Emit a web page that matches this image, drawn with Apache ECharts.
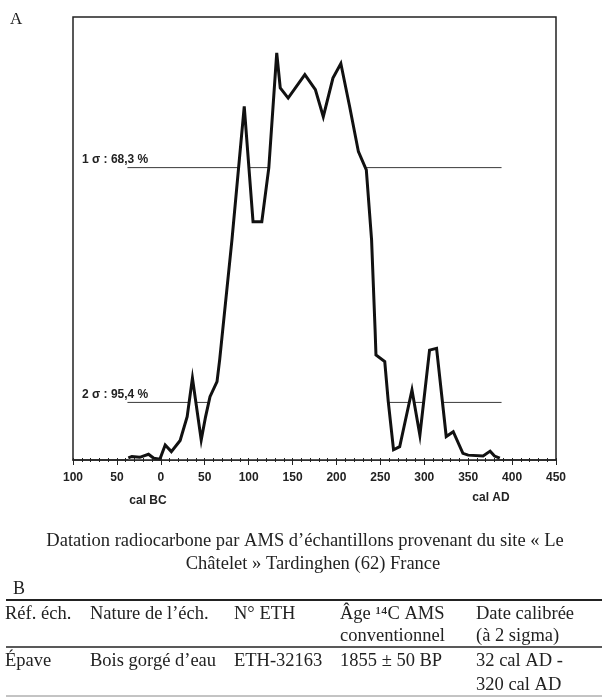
<!DOCTYPE html>
<html>
<head>
<meta charset="utf-8">
<title>Datation radiocarbone</title>
<script src="https://cdn.jsdelivr.net/npm/echarts@6/dist/echarts.min.js"></script>
<style>
  html, body { margin: 0; padding: 0; background: #fff; }
  #main { width: 602px; height: 698px; }
</style>
</head>
<body>
<div id="main"></div>
<script>
// années calibrées (négatif = cal BC)
const years = [-37, -33, -24, -14, -8, -1, 5, 12, 22, 30, 36, 46, 51, 56, 64, 67, 81, 95, 105, 115, 123, 132, 136, 145, 164, 176, 185, 196, 205, 215, 225, 234, 240, 244, 245, 255, 259, 265, 272, 286, 295, 306, 314, 325, 333, 344, 350, 367, 375, 380, 386]
// probabilité relative (1 = haut du cadre)
const prob = [0.005, 0.008, 0.006, 0.013, 0.004, 0.002, 0.034, 0.019, 0.044, 0.098, 0.185, 0.045, 0.098, 0.143, 0.177, 0.226, 0.497, 0.798, 0.538, 0.538, 0.66, 0.919, 0.84, 0.817, 0.87, 0.836, 0.775, 0.862, 0.895, 0.798, 0.696, 0.655, 0.497, 0.294, 0.237, 0.222, 0.132, 0.023, 0.03, 0.158, 0.056, 0.248, 0.252, 0.053, 0.064, 0.015, 0.011, 0.009, 0.02, 0.009, 0.004]
// niveaux 1 sigma / 2 sigma
const sigmaNames = ['1 σ : 68,3 %', '2 σ : 95,4 %']
const sigmaLevels = [0.66, 0.13]
const sigmaRange = [-38, 388]
// tableau B
const tableHead = [['Réf. éch.'], ['Nature de l\u2019éch.'], ['N° ETH'], ['Âge ¹⁴C AMS', 'conventionnel'], ['Date calibrée', '(à 2 sigma)']]
const tableRow = [['Épave'], ['Bois gorgé d\u2019eau'], ['ETH-32163'], ['1855 ± 50 BP'], ['32 cal AD -', '320 cal AD']]
const colX = [5, 90, 234, 340, 476]

let myChart = echarts.init(document.getElementById('main'))

const serif = '"Liberation Serif", "Times New Roman", serif'
const sans = '"Liberation Sans", Arial, sans-serif'
const txt = '#222'

let curve = years.map((y, i) => [y, prob[i]])

let sigmaSeries = sigmaLevels.map((lv, i) => ({
  name: sigmaNames[i],
  type: 'line',
  z: 1,
  symbol: 'none',
  silent: true,
  lineStyle: { color: '#3a3a3a', width: 1 },
  data: [[sigmaRange[0], lv], [sigmaRange[1], lv]]
}))

let graphics = [
  { type: 'text', left: 10, top: 11, style: { text: 'A', font: '17px ' + serif, fill: txt } },
  { type: 'text', left: 82, top: 154, style: { text: sigmaNames[0], font: 'bold 12px ' + sans, fill: txt } },
  { type: 'text', left: 82, top: 389, style: { text: sigmaNames[1], font: 'bold 12px ' + sans, fill: txt } },
  { type: 'text', x: 148, y: 501, style: { text: 'cal BC', font: 'bold 12px ' + sans, fill: txt, align: 'center', verticalAlign: 'middle' } },
  { type: 'text', x: 491, y: 498, style: { text: 'cal AD', font: 'bold 12px ' + sans, fill: txt, align: 'center', verticalAlign: 'middle' } },
  // légende
  { type: 'text', x: 305, y: 541, style: { text: 'Datation radiocarbone par AMS d\u2019échantillons provenant du site « Le', font: '18.5px ' + serif, fill: txt, align: 'center', verticalAlign: 'middle' } },
  { type: 'text', x: 313, y: 564, style: { text: 'Châtelet » Tardinghen (62) France', font: '18.5px ' + serif, fill: txt, align: 'center', verticalAlign: 'middle' } },
  { type: 'text', x: 13, y: 589, style: { text: 'B', font: '18px ' + serif, fill: txt, verticalAlign: 'middle' } },
  { type: 'line', shape: { x1: 6, y1: 600, x2: 602, y2: 600 }, style: { stroke: txt, lineWidth: 2 } },
  { type: 'line', shape: { x1: 6, y1: 647, x2: 602, y2: 647 }, style: { stroke: txt, lineWidth: 1.5 } },
  { type: 'line', shape: { x1: 6, y1: 696, x2: 602, y2: 696 }, style: { stroke: '#888', lineWidth: 1 } }
]
tableHead.forEach((lines, c) => {
  lines.forEach((t, k) => {
    graphics.push({ type: 'text', x: colX[c], y: 614 + k * 22, style: { text: t, font: '18.5px ' + serif, fill: txt, verticalAlign: 'middle' } })
  })
})
tableRow.forEach((lines, c) => {
  lines.forEach((t, k) => {
    graphics.push({ type: 'text', x: colX[c], y: 661 + k * 24, style: { text: t, font: '18.5px ' + serif, fill: txt, verticalAlign: 'middle' } })
  })
})

let option = {
  animation: false,
  backgroundColor: '#fff',
  grid: {
    left: 73,
    right: 46,
    top: 17,
    bottom: 238,
    show: true,
    borderColor: txt,
    borderWidth: 1.5
  },
  xAxis: [
    {
      type: 'value',
      min: -100,
      max: 450,
      interval: 50,
      z: 5,
      axisLine: { lineStyle: { color: txt, width: 1.5 } },
      axisTick: { length: 5, lineStyle: { color: txt } },
      minorTick: { show: true, splitNumber: 5, length: 2, lineStyle: { color: txt } },
      splitLine: { show: false },
      axisLabel: {
        color: txt,
        fontFamily: sans,
        fontWeight: 'bold',
        fontSize: 12,
        margin: 12,
        formatter: v => String(Math.abs(v))
      }
    },
    {
      type: 'value',
      min: -100,
      max: 450,
      interval: 50,
      position: 'bottom',
      z: 5,
      axisLine: { show: false },
      axisTick: { inside: true, length: 2, lineStyle: { color: txt } },
      minorTick: { show: true, splitNumber: 5, length: 2, lineStyle: { color: txt } },
      splitLine: { show: false },
      axisLabel: { show: false }
    }
  ],
  yAxis: {
    type: 'value',
    min: 0,
    max: 1,
    show: false
  },
  series: sigmaSeries.concat([
    {
      name: 'probabilité',
      type: 'line',
      z: 3,
      symbol: 'none',
      lineStyle: { color: '#111', width: 3, join: 'miter' },
      areaStyle: { color: '#fff', opacity: 1 },
      data: curve
    }
  ]),
  graphic: graphics
}

myChart.setOption(option)
</script>
</body>
</html>
